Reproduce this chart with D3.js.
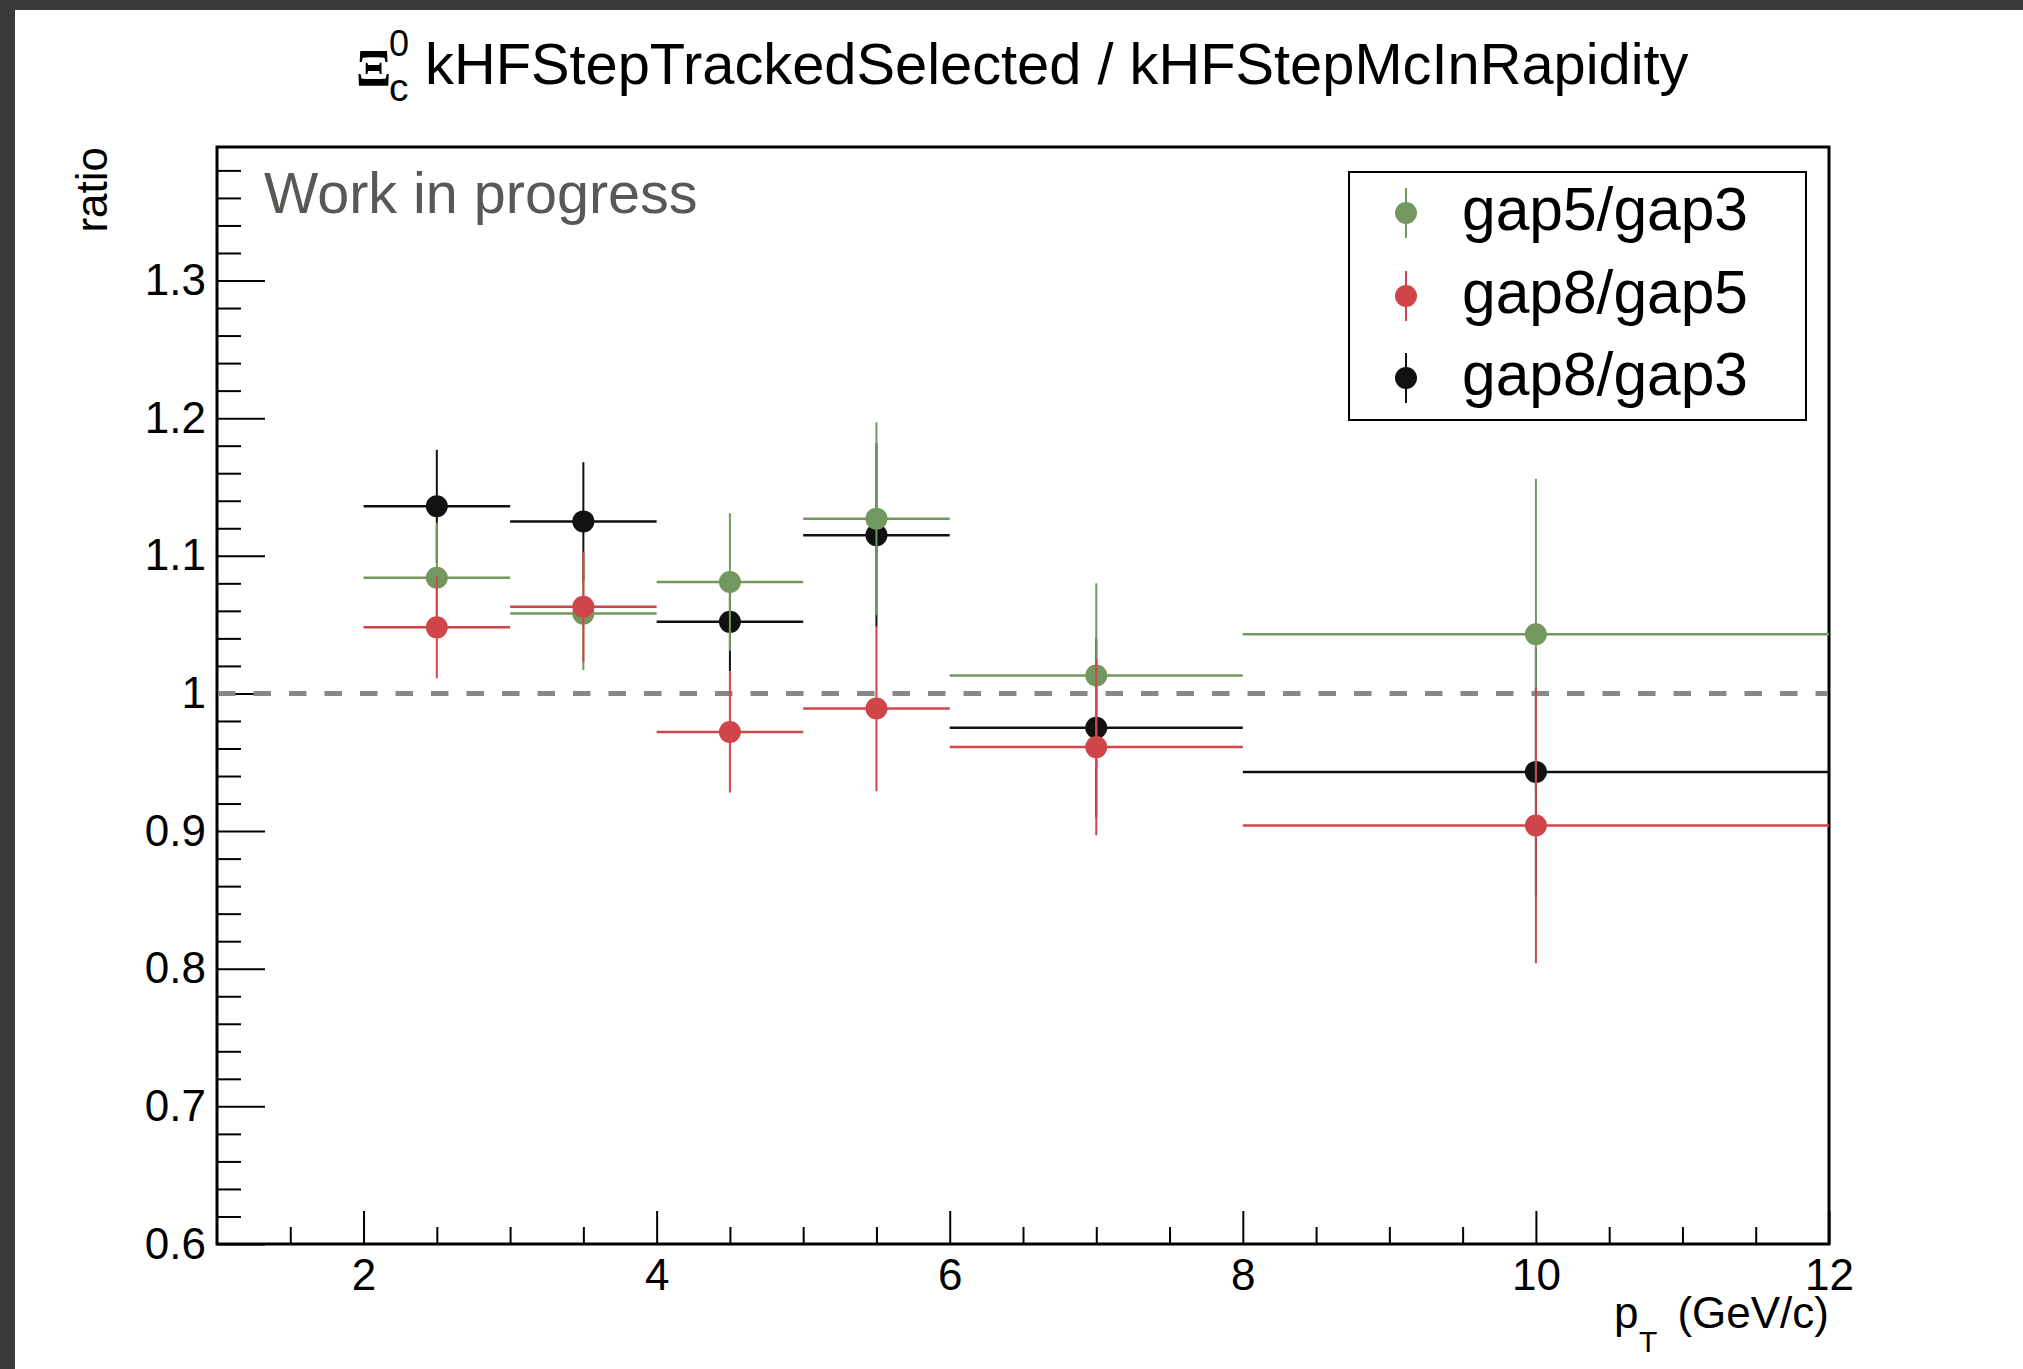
<!DOCTYPE html>
<html>
<head>
<meta charset="utf-8">
<script src="https://cdnjs.cloudflare.com/ajax/libs/d3/7.8.5/d3.min.js"></script>
<style>
    body { margin: 0; background: #ffffff; }
    svg { display: block; font-family: "Liberation Sans", Arial, Helvetica, sans-serif; }
</style>
</head>
<body>
<div id="chart"></div>
<script>
// bins in pT (GeV/c)
var binLow = [2, 3, 4, 5, 6, 8];
var binHigh = [3, 4, 5, 6, 8, 12];
var binCenter = [2.5, 3.5, 4.5, 5.5, 7, 10];

// ratios
var gap5gap3 = [1.084, 1.058, 1.081, 1.127, 1.013, 1.043];
var gap5gap3Err = [0.040, 0.041, 0.050, 0.070, 0.067, 0.113];

var gap8gap5 = [1.048, 1.063, 0.972, 0.989, 0.961, 0.904];
var gap8gap5Err = [0.037, 0.040, 0.044, 0.060, 0.064, 0.100];

var gap8gap3 = [1.136, 1.125, 1.052, 1.115, 0.975, 0.943];
var gap8gap3Err = [0.041, 0.043, 0.036, 0.067, 0.065, 0.090];

var seriesNames = ["gap5/gap3", "gap8/gap5", "gap8/gap3"];
var seriesColors = ["#72985f", "#cf454a", "#111111"];

var yMajorTicks = [0.6, 0.7, 0.8, 0.9, 1.0, 1.1, 1.2, 1.3];
var xMajorTicks = [2, 4, 6, 8, 10, 12];

var width = 2023,
    height = 1369;

var svg = d3.select("#chart").append("svg")
    .attr("width", width)
    .attr("height", height);

// dark window border from the screenshot
svg.append("rect").attr("x", 0).attr("y", 0).attr("width", width).attr("height", 10).attr("fill", "#3b3b3b");
svg.append("rect").attr("x", 0).attr("y", 0).attr("width", 15).attr("height", height).attr("fill", "#3b3b3b");

var frame = { left: 217, right: 1829, top: 147, bottom: 1244 };

var xScale = d3.scaleLinear().domain([1, 12]).range([frame.left, frame.right]);
var yScale = d3.scaleLinear().domain([0.6, 1.397]).range([frame.bottom, frame.top]);

// minor ticks
var yMinor = d3.range(0, 40).map(function (i) { return +(0.6 + i * 0.02).toFixed(2); })
    .filter(function (v) { return yMajorTicks.indexOf(v) < 0; });
var xMinor = d3.range(0, 22).map(function (i) { return 1.5 + i * 0.5; })
    .filter(function (v) { return v < 12 && xMajorTicks.indexOf(v) < 0; });

svg.append("g")
    .attr("transform", "translate(" + frame.left + ",0)")
    .call(d3.axisLeft(yScale).tickValues(yMinor).tickSizeInner(-24).tickSizeOuter(0).tickFormat(""))
    .call(function (g) { g.select(".domain").remove(); })
    .selectAll("line").attr("stroke", "#000").attr("stroke-width", 2);

svg.append("g")
    .attr("transform", "translate(" + frame.left + ",0)")
    .call(d3.axisLeft(yScale).tickValues(yMajorTicks).tickSizeInner(-48).tickSizeOuter(0).tickPadding(11)
        .tickFormat(function (d) { return String(+d.toFixed(1)); }))
    .call(function (g) { g.select(".domain").remove(); })
    .call(function (g) {
        g.selectAll("line").attr("stroke", "#000").attr("stroke-width", 2);
        g.selectAll("text").attr("font-size", 44).attr("fill", "#000")
            .attr("font-family", "Liberation Sans, Arial, sans-serif");
    });

svg.append("g")
    .attr("transform", "translate(0," + frame.bottom + ")")
    .call(d3.axisBottom(xScale).tickValues(xMinor).tickSizeInner(-17).tickSizeOuter(0).tickFormat(""))
    .call(function (g) { g.select(".domain").remove(); })
    .selectAll("line").attr("stroke", "#000").attr("stroke-width", 2);

svg.append("g")
    .attr("transform", "translate(0," + frame.bottom + ")")
    .call(d3.axisBottom(xScale).tickValues(xMajorTicks).tickSizeInner(-33).tickSizeOuter(0).tickPadding(15))
    .call(function (g) { g.select(".domain").remove(); })
    .call(function (g) {
        g.selectAll("line").attr("stroke", "#000").attr("stroke-width", 2);
        g.selectAll("text").attr("font-size", 44).attr("fill", "#000")
            .attr("font-family", "Liberation Sans, Arial, sans-serif");
    });

// frame
svg.append("rect")
    .attr("x", frame.left)
    .attr("y", frame.top)
    .attr("width", frame.right - frame.left)
    .attr("height", frame.bottom - frame.top)
    .attr("fill", "none")
    .attr("stroke", "#000")
    .attr("stroke-width", 3);

// reference line at 1
svg.append("line")
    .attr("x1", xScale(1) + 1).attr("x2", xScale(12) - 2)
    .attr("y1", yScale(1)).attr("y2", yScale(1))
    .attr("stroke", "#888888")
    .attr("stroke-width", 5)
    .attr("stroke-dasharray", "17.5,18");

// points: black first, then green, then red on top
var allSeries = [
    { name: seriesNames[2], color: seriesColors[2], values: gap8gap3, errors: gap8gap3Err },
    { name: seriesNames[0], color: seriesColors[0], values: gap5gap3, errors: gap5gap3Err },
    { name: seriesNames[1], color: seriesColors[1], values: gap8gap5, errors: gap8gap5Err }
];

allSeries.forEach(function (s) {
    var g = svg.append("g");
    s.values.forEach(function (v, i) {
        g.append("line")
            .attr("x1", xScale(binLow[i])).attr("x2", xScale(binHigh[i]))
            .attr("y1", yScale(v)).attr("y2", yScale(v))
            .attr("stroke", s.color).attr("stroke-width", 2.5);
        g.append("line")
            .attr("x1", xScale(binCenter[i])).attr("x2", xScale(binCenter[i]))
            .attr("y1", yScale(v + s.errors[i])).attr("y2", yScale(v - s.errors[i]))
            .attr("stroke", s.color).attr("stroke-width", 2);
        g.append("circle")
            .attr("cx", xScale(binCenter[i]))
            .attr("cy", yScale(v))
            .attr("r", 11)
            .attr("fill", s.color);
    });
});

// title
svg.append("text").text("\u039E")
    .attr("x", 356).attr("y", 86)
    .attr("font-family", "Liberation Serif, Times New Roman, serif")
    .attr("font-weight", "bold")
    .attr("font-size", 52);
svg.append("text").text("0")
    .attr("x", 389).attr("y", 56)
    .attr("font-size", 36);
svg.append("text").text("c")
    .attr("x", 389).attr("y", 101)
    .attr("font-size", 39);
svg.append("text").text("kHFStepTrackedSelected / kHFStepMcInRapidity")
    .attr("x", 425).attr("y", 84)
    .attr("font-size", 57.8);

svg.append("text").text("Work in progress")
    .attr("x", 264).attr("y", 213)
    .attr("font-size", 57.5)
    .attr("fill", "#585955");

// axis titles
svg.append("text").text("ratio")
    .attr("text-anchor", "end")
    .attr("transform", "translate(107," + frame.top + ") rotate(-90)")
    .attr("font-size", 44);

svg.append("text").text("p")
    .attr("x", 1614).attr("y", 1328)
    .attr("font-size", 44);
svg.append("text").text("T")
    .attr("x", 1639).attr("y", 1352)
    .attr("font-size", 30);
svg.append("text").text("(GeV/c)")
    .attr("text-anchor", "end")
    .attr("x", frame.right).attr("y", 1328)
    .attr("font-size", 44);

// legend
var legend = { left: 1349, top: 172, right: 1806, bottom: 420 };
svg.append("rect")
    .attr("x", legend.left).attr("y", legend.top)
    .attr("width", legend.right - legend.left)
    .attr("height", legend.bottom - legend.top)
    .attr("fill", "#fff")
    .attr("stroke", "#000")
    .attr("stroke-width", 2);

var rowY = [213, 296, 378];
seriesNames.forEach(function (name, i) {
    svg.append("line")
        .attr("x1", 1406).attr("x2", 1406)
        .attr("y1", rowY[i] - 25).attr("y2", rowY[i] + 25)
        .attr("stroke", seriesColors[i]).attr("stroke-width", 2);
    svg.append("circle")
        .attr("cx", 1406).attr("cy", rowY[i])
        .attr("r", 11)
        .attr("fill", seriesColors[i]);
    svg.append("text").text(name)
        .attr("x", 1462).attr("y", rowY[i] + 17)
        .attr("font-size", 60.5);
});
</script>
</body>
</html>
